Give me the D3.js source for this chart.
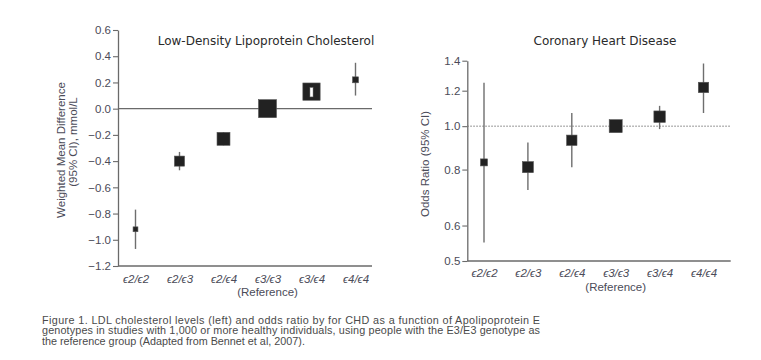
<!DOCTYPE html>
<html>
<head>
<meta charset="utf-8">
<script src="https://cdn.jsdelivr.net/npm/d3@7"></script>
<style>
  html, body { margin: 0; padding: 0; background: #fff; }
  svg { display: block; }
</style>
</head>
<body>
<script>
// ---------- DATA ----------
const genotypes = ["\u03F52/\u03F52", "\u03F52/\u03F53", "\u03F52/\u03F54", "\u03F53/\u03F53", "\u03F53/\u03F54", "\u03F54/\u03F54"];
const referenceGenotype = "\u03F53/\u03F53";

// LDL cholesterol: weighted mean difference (mmol/L) and 95% CI
const ldlMean = [-0.92, -0.40, -0.23, 0.00, 0.13, 0.22];
const ldlLow  = [-1.07, -0.47, -0.28, 0.00, 0.09, 0.10];
const ldlHigh = [-0.77, -0.33, -0.18, 0.00, 0.16, 0.35];
const ldlWeight = [0.27, 0.56, 0.72, 1.00, 0.96, 0.33];   // relative study weight
const ldlTicks = [0.6, 0.4, 0.2, 0.0, -0.2, -0.4, -0.6, -0.8, -1.0, -1.2];

// Coronary heart disease: odds ratio and 95% CI
const chdOR   = [0.83, 0.81, 0.93, 1.00, 1.05, 1.22];
const chdLow  = [0.55, 0.72, 0.81, 1.00, 0.985, 1.07];
const chdHigh = [1.25, 0.92, 1.07, 1.00, 1.11, 1.38];
const chdWeight = [0.54, 0.85, 0.80, 1.00, 0.88, 0.80];
const chdTicks = [1.4, 1.2, 1.0, 0.8, 0.6, 0.5];

const captionLines = [
  "Figure 1. LDL cholesterol levels (left) and odds ratio by for CHD as a function of Apolipoprotein E",
  "genotypes in studies with 1,000 or more healthy individuals, using people with the E3/E3 genotype as",
  "the reference group (Adapted from Bennet et al, 2007)."
];

// ---------- DRAW ----------
const W = 761, H = 360;
const svg = d3.select("body").append("svg").attr("width", W).attr("height", H);

const tickFont = "'Liberation Sans', Arial, sans-serif";
const titleFont = "'DejaVu Sans', Verdana, sans-serif";
const tickColor = "#4b4b58";
const axisColor = "#6a6a6a";
const markColor = "#222";
const ciColor = "#6e6e6e";

function panel(opts) {
  const g = svg.append("g");
  const { x, y, x0, x1, ticks, fmt, mean, low, high, weight, maxSize } = opts;
  const yBottom = y.range()[0];

  // y axis
  const ya = g.append("g").attr("transform", `translate(${x0},0)`)
    .call(d3.axisLeft(y).tickValues(ticks).tickFormat(fmt).tickSize(5).tickSizeOuter(0).tickPadding(2));
  ya.select(".domain").attr("stroke", axisColor).attr("stroke-width", 1.3);
  ya.selectAll(".tick line").attr("stroke", axisColor).attr("stroke-width", 1.1);
  ya.selectAll(".tick text").attr("font-family", tickFont).attr("font-size", 11.5).attr("fill", tickColor);

  // x axis
  g.append("line").attr("x1", x0).attr("x2", x1).attr("y1", yBottom).attr("y2", yBottom)
    .attr("stroke", axisColor).attr("stroke-width", 1.3);
  const xa = g.append("g").attr("transform", `translate(0,${yBottom})`)
    .call(d3.axisBottom(x).tickSize(0).tickPadding(opts.labelPad));
  xa.select(".domain").remove();
  xa.selectAll(".tick text").attr("font-family", tickFont).attr("font-size", 11.5)
    .attr("font-style", "italic").attr("fill", tickColor);
  g.append("text").attr("x", x(referenceGenotype)).attr("y", yBottom + opts.refPad)
    .attr("text-anchor", "middle").attr("font-family", tickFont).attr("font-size", 11.5)
    .attr("fill", tickColor).text("(Reference)");

  // reference line
  g.append("line").attr("x1", x0).attr("x2", x1)
    .attr("y1", y(opts.refValue)).attr("y2", y(opts.refValue))
    .attr("stroke", opts.refDash ? "#777" : axisColor)
    .attr("stroke-width", opts.refDash ? 1 : 1.3)
    .attr("stroke-dasharray", opts.refDash ? "1.5,1.5" : null);

  const size = d3.scaleLinear().domain([0, 1]).range([0, maxSize]);
  const data = genotypes.map((gt, i) => ({ gt, m: mean[i], lo: low[i], hi: high[i], s: size(weight[i]) }));

  // CI lines
  g.selectAll(".ci").data(data.filter(d => d.lo !== d.hi)).join("line")
    .attr("x1", d => x(d.gt)).attr("x2", d => x(d.gt))
    .attr("y1", d => y(d.hi)).attr("y2", d => y(d.lo))
    .attr("stroke", ciColor).attr("stroke-width", 1.4);

  // squares
  g.selectAll(".pt").data(data).join("rect")
    .attr("x", d => x(d.gt) - d.s / 2).attr("y", d => y(d.m) - d.s / 2)
    .attr("width", d => d.s).attr("height", d => d.s)
    .attr("fill", markColor).attr("stroke", "#555").attr("stroke-width", 0.6);

  // CI lines fully inside a square drawn in white
  g.selectAll(".ciw").data(data.filter(d => d.lo !== d.hi &&
      Math.abs(y(d.hi) - y(d.m)) < d.s / 2 && Math.abs(y(d.lo) - y(d.m)) < d.s / 2)).join("rect")
    .attr("x", d => x(d.gt) - 1.5).attr("width", 3)
    .attr("y", d => y(d.hi)).attr("height", d => y(d.lo) - y(d.hi))
    .attr("fill", "#fff").attr("stroke", "#888").attr("stroke-width", 0.5);

  // title
  g.append("text").attr("x", opts.titleX).attr("y", 45).attr("text-anchor", "middle")
    .attr("font-family", titleFont).attr("font-size", 12).attr("fill", "#2a2a2a").text(opts.title);

  // y title
  opts.yTitle.forEach(t => {
    g.append("text").attr("transform", `translate(${t.x},${t.y}) rotate(-90)`)
      .attr("text-anchor", "middle").attr("font-family", tickFont).attr("font-size", 11.5)
      .attr("fill", tickColor).text(t.text);
  });
}

const fmt1 = d3.format(".1f");

panel({
  x: d3.scalePoint().domain(genotypes).range([135.5, 355.5]),
  y: d3.scaleLinear().domain([-1.2, 0.6]).range([266, 30]),
  x0: 118, x1: 372,
  ticks: ldlTicks, fmt: fmt1,
  mean: ldlMean, low: ldlLow, high: ldlHigh, weight: ldlWeight, maxSize: 18,
  refValue: 0, refDash: false,
  labelPad: 9, refPad: 30,
  title: "Low-Density Lipoprotein Cholesterol", titleX: 266,
  yTitle: [
    { text: "Weighted Mean Difference", x: 65, y: 150 },
    { text: "(95% CI), mmol/L", x: 77, y: 142 }
  ]
});

panel({
  x: d3.scalePoint().domain(genotypes).range([484, 703.5]),
  y: d3.scaleLog().domain([0.5, 1.4]).range([261, 60.7]),
  x0: 467.3, x1: 730.7,
  ticks: chdTicks, fmt: fmt1,
  mean: chdOR, low: chdLow, high: chdHigh, weight: chdWeight, maxSize: 13,
  refValue: 1, refDash: true,
  labelPad: 8, refPad: 30,
  title: "Coronary Heart Disease", titleX: 605,
  yTitle: [
    { text: "Odds Ratio (95% CI)", x: 429, y: 164 }
  ]
});

// caption
const capBase = [323.5, 334, 344.5];
captionLines.forEach((line, i) => {
  const t = svg.append("text").attr("x", 42).attr("y", capBase[i])
    .attr("font-family", tickFont).attr("font-size", 10.8).attr("fill", "#4a4a4a").text(line);
  if (i < 2) t.attr("textLength", 498).attr("lengthAdjust", "spacing");
});
</script>
</body>
</html>
